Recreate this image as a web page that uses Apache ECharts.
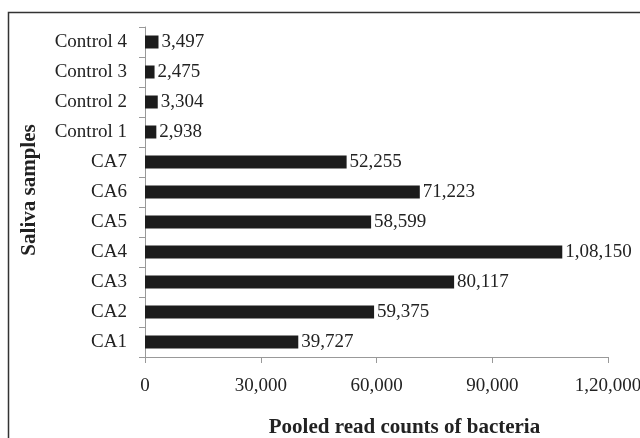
<!DOCTYPE html>
<html><head><meta charset="utf-8">
<script src="https://cdn.jsdelivr.net/npm/echarts@6/dist/echarts.min.js"></script>
<style>html,body{margin:0;padding:0;background:#fff}#c{width:640px;height:438px}</style>
</head><body><div id="c"></div>
<script>
var categories = ["CA1","CA2","CA3","CA4","CA5","CA6","CA7","Control 1","Control 2","Control 3","Control 4"];
var values = [39727,59375,80117,108150,58599,71223,52255,2938,3304,2475,3497];
var xTicks = [0,30000,60000,90000,120000];

function indian(n){
  var s = String(Math.round(n));
  if (s.length <= 3) return s;
  var last3 = s.slice(-3), rest = s.slice(0,-3);
  rest = rest.replace(/\B(?=(\d{2})+(?!\d))/g, ",");
  return rest + "," + last3;
}
var serif = "Liberation Serif, Times New Roman, serif";
var chart = echarts.init(document.getElementById('c'));
chart.setOption({
  animation:false,
  graphic:[{type:'rect',shape:{x:8.5,y:12.5,width:800,height:600},style:{fill:'none',stroke:'#333',lineWidth:1.5},silent:true}],
  grid:{left:145,right:32,top:27,bottom:81,containLabel:false,outerBoundsMode:'none'},
  xAxis:{type:'value',min:xTicks[0],max:xTicks[xTicks.length-1],interval:30000,
    name:'Pooled read counts of bacteria',nameLocation:'middle',nameGap:60,
    nameTextStyle:{fontFamily:serif,fontWeight:'bold',fontSize:21,color:'#222',padding:[0,0,0,56]},
    axisLine:{show:true,lineStyle:{color:'#999',width:1}},
    axisTick:{show:true,length:6,lineStyle:{color:'#999'}},
    splitLine:{show:false},
    axisLabel:{fontFamily:serif,fontSize:19,color:'#222',margin:20,formatter:function(v){return indian(v);}}
  },
  yAxis:{type:'category',data:categories,
    name:'Saliva samples',nameLocation:'middle',nameGap:105,nameRotate:90,
    nameTextStyle:{fontFamily:serif,fontWeight:'bold',fontSize:21,color:'#222',padding:[0,0,0,4]},
    axisLine:{show:true,lineStyle:{color:'#999',width:1}},
    axisTick:{show:true,length:6,lineStyle:{color:'#999'}},
    axisLabel:{fontFamily:serif,fontSize:19,color:'#222',margin:18}
  },
  series:[{type:'bar',data:values,barWidth:13,
    itemStyle:{color:'#1c1c1c'},
    label:{show:true,position:'right',distance:3,fontFamily:serif,fontSize:19,color:'#222',
      formatter:function(p){return indian(p.value);}}
  }]
});
</script></body></html>
